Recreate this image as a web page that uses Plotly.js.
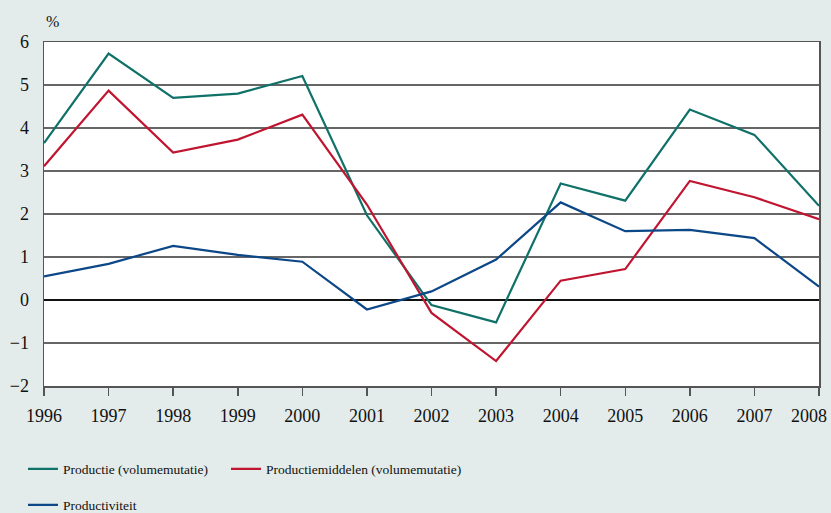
<!DOCTYPE html>
<html>
<head>
<meta charset="utf-8">
<script src="https://cdn.plot.ly/plotly-3.0.1.min.js"></script>
<style>html,body{margin:0;padding:0;background:#e3ecea;}#chart{width:831px;height:513px;}</style>
</head>
<body>
<div id="chart"></div>
<script>
const years = [1996, 1997, 1998, 1999, 2000, 2001, 2002, 2003, 2004, 2005, 2006, 2007, 2008];
const productie = [3.65, 5.73, 4.70, 4.80, 5.21, 1.97, -0.12, -0.52, 2.71, 2.31, 4.43, 3.84, 2.19];
const productiemiddelen = [3.11, 4.87, 3.43, 3.73, 4.31, 2.22, -0.30, -1.42, 0.45, 0.72, 2.77, 2.39, 1.88];
const productiviteit = [0.55, 0.84, 1.26, 1.05, 0.89, -0.22, 0.20, 0.94, 2.27, 1.60, 1.63, 1.44, 0.31];
const seriesNames = ['Productie (volumemutatie)', 'Productiemiddelen (volumemutatie)', 'Productiviteit'];
const yTicks = [-2, -1, 0, 1, 2, 3, 4, 5, 6];

const font = "'Liberation Serif', 'DejaVu Serif', serif";
const traces = [
  {x: years, y: productie, name: seriesNames[0], mode: 'lines', line: {color: '#0f7168', width: 2.2}, legend: 'legend'},
  {x: years, y: productiemiddelen, name: seriesNames[1], mode: 'lines', line: {color: '#c01530', width: 2.2}, legend: 'legend2'},
  {x: years, y: productiviteit, name: seriesNames[2], mode: 'lines', line: {color: '#0c4787', width: 2.2}, legend: 'legend3'}
];
function legendAt(px, py) {
  return {
    orientation: 'h', xref: 'container', yref: 'container', xanchor: 'left', yanchor: 'middle',
    x: px / 831, y: 1 - py / 513,
    bgcolor: 'rgba(0,0,0,0)', font: {family: font, size: 13.5, color: '#111'}
  };
}
const lastYear = years[years.length - 1];
// last tick label is drawn as an annotation nudged left so it stays inside the page (as in the reference)
const xTickText = years.map(y => y === lastYear ? '' : String(y));
const layout = {
  width: 831, height: 513,
  paper_bgcolor: '#e3ecea', plot_bgcolor: '#ffffff',
  margin: {l: 44, r: 12, t: 42, b: 127},
  font: {family: font, size: 18, color: '#111'},
  showlegend: true,
  legend: legendAt(23, 469),
  legend2: legendAt(226, 469),
  legend3: legendAt(23, 505),
  xaxis: {
    range: [1996, 2008], tickmode: 'array', tickvals: years, ticktext: xTickText,
    showgrid: false, zeroline: false, showline: true, linecolor: '#555', linewidth: 1.5, mirror: true,
    ticks: 'outside', ticklen: 8, tickcolor: '#555', tickwidth: 1.5, ticklabelstandoff: 5,
    tickfont: {family: font, size: 18, color: '#111'}, fixedrange: true
  },
  yaxis: {
    range: [-2, 6], tickmode: 'array', tickvals: yTicks, ticktext: yTicks.map(v => v < 0 ? '\u2212' + Math.abs(v) : String(v)),
    showgrid: true, gridcolor: '#666', gridwidth: 1.5,
    zeroline: true, zerolinecolor: '#111', zerolinewidth: 1.8,
    showline: true, linecolor: '#555', linewidth: 1.5, mirror: true,
    ticks: '', ticklabelstandoff: 10,
    tickfont: {family: font, size: 18, color: '#111'}, fixedrange: true
  },
  annotations: [
    {text: '%', xref: 'paper', yref: 'paper', x: 0, y: 1, xanchor: 'left', yanchor: 'bottom', yshift: 10, showarrow: false,
     font: {family: font, size: 16, color: '#111'}},
    {text: String(lastYear), xref: 'x', yref: 'paper', x: lastYear, y: 0, xanchor: 'right', yanchor: 'top',
     xshift: 10, yshift: -18, showarrow: false, font: {family: font, size: 18, color: '#111'}}
  ]
};
Plotly.newPlot('chart', traces, layout, {displayModeBar: false, staticPlot: true});
</script>
</body>
</html>
